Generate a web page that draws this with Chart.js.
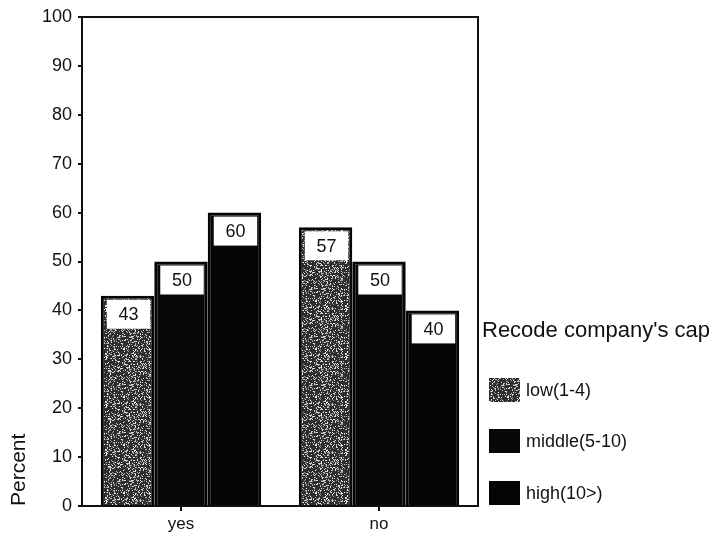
<!DOCTYPE html>
<html>
<head>
<meta charset="utf-8">
<script src="https://cdn.jsdelivr.net/npm/chart.js@4.4.1/dist/chart.umd.min.js"></script>
<style>
  html, body { margin: 0; padding: 0; background: #fff; }
  #wrap { width: 718px; height: 539px; position: relative; }
</style>
</head>
<body>
<div id="wrap"><canvas id="chart" width="718" height="539"></canvas></div>
<script>
// ==========================================
// DATA
// ==========================================
const categories = ['yes', 'no'];
const seriesNames = ['low(1-4)', 'middle(5-10)', 'high(10>)'];
const lowValues = [43, 57];
const middleValues = [50, 50];
const highValues = [60, 40];
const yTicks = [0, 10, 20, 30, 40, 50, 60, 70, 80, 90, 100];
const legendTitle = "Recode company's cap";
const axisTitle = 'Percent';

const FONT = '"Liberation Sans", Arial, sans-serif';

const ctx = document.getElementById('chart').getContext('2d');

// Stippled texture for the "low" series (deterministic speckle)
function makeStipple() {
    const c = document.createElement('canvas');
    c.width = 48; c.height = 48;
    const g = c.getContext('2d');
    g.fillStyle = '#2e2e2e';
    g.fillRect(0, 0, 48, 48);
    let s = 12345;
    const next = () => { s = (s * 1103515245 + 12345) & 0x7fffffff; return s / 0x7fffffff; };
    for (let i = 0; i < 700; i++) {
        const x = Math.floor(next() * 48), y = Math.floor(next() * 48);
        const v = 150 + Math.floor(next() * 105);
        g.fillStyle = `rgb(${v},${v},${v})`;
        g.fillRect(x, y, 1, 1);
    }
    return ctx.createPattern(c, 'repeat');
}

const fills = [makeStipple(), '#080808', '#050505'];

// ==========================================
// PLUGINS
// ==========================================
// White value boxes at the top of each bar + plot frame
const valueBoxes = {
    id: 'valueBoxes',
    afterDatasetsDraw(chart) {
        const c = chart.ctx;
        const area = chart.chartArea;
        c.save();
        chart.data.datasets.forEach((ds, di) => {
            chart.getDatasetMeta(di).data.forEach((bar, i) => {
                const left = bar.x - bar.width / 2;
                const right = bar.x + bar.width / 2;
                const bx = left + 6, bw = right - 4 - bx;
                const by = bar.y + 4, bh = 29;
                c.fillStyle = '#fff';
                c.fillRect(bx, by, bw, bh);
                c.fillStyle = '#111';
                c.font = '18px ' + FONT;
                c.textAlign = 'center';
                c.textBaseline = 'middle';
                c.fillText(String(ds.data[i]), bx + bw / 2, by + bh / 2 + 1);
            });
        });
        // frame on top and right
        c.strokeStyle = '#111';
        c.lineWidth = 2;
        c.beginPath();
        c.moveTo(area.left, area.top);
        c.lineTo(area.right, area.top);
        c.lineTo(area.right, area.bottom);
        c.stroke();
        c.restore();
    }
};

// Legend at the right, SPSS-like
const sideLegend = {
    id: 'sideLegend',
    afterDraw(chart) {
        const c = chart.ctx;
        c.save();
        c.fillStyle = '#111';
        c.font = '22px ' + FONT;
        c.textAlign = 'left';
        c.textBaseline = 'middle';
        c.fillText(legendTitle, 482, 331);
        const rows = [390, 441, 493];
        chart.data.datasets.forEach((ds, i) => {
            c.fillStyle = ds.backgroundColor;
            c.fillRect(489, rows[i] - 12, 31, 24);
            c.fillStyle = '#111';
            c.font = '18px ' + FONT;
            c.fillText(ds.label, 526, rows[i] + 1);
        });
        c.restore();
    }
};

// ==========================================
// CHART
// ==========================================
new Chart(ctx, {
    type: 'bar',
    data: {
        labels: categories,
        datasets: [
            { label: seriesNames[0], data: lowValues, backgroundColor: fills[0] },
            { label: seriesNames[1], data: middleValues, backgroundColor: fills[1] },
            { label: seriesNames[2], data: highValues, backgroundColor: fills[2] }
        ].map(ds => Object.assign(ds, {
            borderColor: '#050505',
            borderWidth: 3,
            borderSkipped: 'bottom',
            categoryPercentage: 0.81,
            barPercentage: 1.0
        }))
    },
    options: {
        responsive: false,
        animation: false,
        layout: { padding: { top: 17, right: 240, left: 0, bottom: 0 } },
        plugins: {
            legend: { display: false },
            tooltip: { enabled: false }
        },
        scales: {
            x: {
                grid: { display: true, drawOnChartArea: false, offset: false, tickLength: 5, color: '#111', lineWidth: 2 },
                border: { display: true, color: '#111', width: 2 },
                ticks: { color: '#111', font: { family: FONT, size: 17 }, padding: 3 },
                afterFit(scale) { scale.height = 33; }
            },
            y: {
                min: 0,
                max: 100,
                afterBuildTicks(scale) { scale.ticks = yTicks.map(v => ({ value: v })); },
                grid: { display: true, drawOnChartArea: false, tickLength: 4, color: '#111', lineWidth: 2 },
                border: { display: true, color: '#111', width: 2 },
                ticks: { color: '#111', font: { family: FONT, size: 18 }, padding: 6 },
                title: { display: true, text: axisTitle, align: 'start', color: '#111', font: { family: FONT, size: 21 }, padding: { top: 7, bottom: 0 } },
                afterFit(scale) { scale.width = 82; }
            }
        }
    },
    plugins: [valueBoxes, sideLegend]
});
</script>
</body>
</html>
